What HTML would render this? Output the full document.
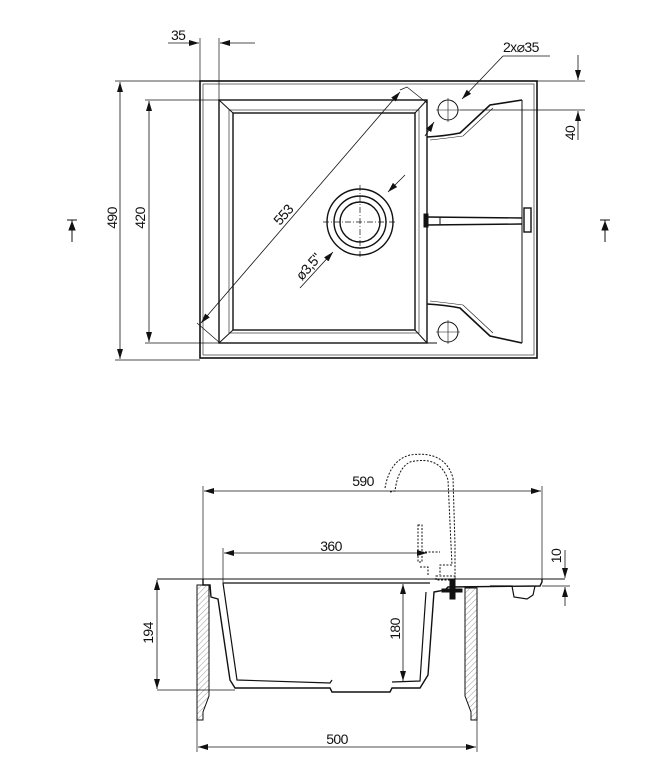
<!DOCTYPE html>
<html><head><meta charset="utf-8"><style>
html,body{margin:0;padding:0;background:#fff;}
svg{display:block;}
text{font-family:"Liberation Sans",sans-serif;font-size:14px;fill:#111;letter-spacing:-0.6px;}
</style></head><body>
<svg width="646" height="780" viewBox="0 0 646 780" xmlns="http://www.w3.org/2000/svg">
<defs>
<marker id="a" markerWidth="10" markerHeight="6" refX="10" refY="3" orient="auto" markerUnits="userSpaceOnUse"><path d="M0,0 L10,3 L0,6 z" fill="#111"/></marker>
<pattern id="h" width="4" height="4" patternUnits="userSpaceOnUse" patternTransform="rotate(45)"><line x1="0" y1="0" x2="0" y2="4" stroke="#999" stroke-width="1"/></pattern>
</defs>
<g stroke="#111" fill="none" stroke-width="1">
<rect x="200" y="81" width="337" height="277" stroke-width="1.6"/>
<rect x="203" y="84" width="331" height="271" stroke-width="0.6"/>
<rect x="219" y="100" width="208" height="243" stroke-width="1.4"/>
<rect x="233" y="113" width="182" height="217" stroke-width="1.4"/>
<rect x="229" y="110" width="190" height="223" stroke-width="0.6"/>
<line x1="219" y1="100" x2="233" y2="113"/><line x1="427" y1="100" x2="415" y2="113"/>
<line x1="219" y1="343" x2="233" y2="330"/><line x1="427" y1="343" x2="415" y2="330"/>
<line x1="427" y1="343" x2="437" y2="343"/>
<circle cx="360" cy="222" r="33" stroke-width="1.4"/>
<circle cx="360" cy="222" r="26" stroke-width="1.4"/>
<circle cx="360" cy="222" r="20" stroke-width="1.4"/>
<line x1="323" y1="222" x2="397" y2="222" stroke-dasharray="6,2,1,2" stroke-width="0.7"/>
<line x1="360" y1="185" x2="360" y2="259" stroke-dasharray="6,2,1,2" stroke-width="0.7"/>
<line x1="300" y1="288" x2="333" y2="252" stroke-width="0.8" marker-end="url(#a)"/>
<line x1="405" y1="175" x2="388" y2="192" stroke-width="0.8" marker-end="url(#a)"/>
<line x1="522" y1="100" x2="522" y2="343"/>
<path d="M427,137 Q445,136 460,133 L490,105 L522,100" stroke-width="1.6"/>
<path d="M430,140 Q448,138 463,136 L493,108" stroke-width="0.6"/>
<path d="M427,304 Q445,305 460,308 L490,336 L522,343" stroke-width="1.6"/>
<path d="M430,301 Q448,303 463,305 L493,333" stroke-width="0.6"/>
<line x1="427" y1="217" x2="522" y2="218" stroke-width="1.4"/>
<line x1="427" y1="225" x2="522" y2="224" stroke-width="1.4"/>
<line x1="440" y1="217" x2="440" y2="225"/>
<rect x="424" y="214" width="4" height="13" fill="#111"/>
<rect x="524" y="208" width="7" height="24" stroke-width="1.4"/>
<circle cx="448" cy="110" r="10"/><line x1="436" y1="110" x2="460" y2="110" stroke-width="0.6"/><line x1="448" y1="98" x2="448" y2="122" stroke-width="0.6"/>
<circle cx="448" cy="332" r="10"/><line x1="436" y1="332" x2="460" y2="332" stroke-width="0.6"/><line x1="448" y1="320" x2="448" y2="344" stroke-width="0.6"/>
<line x1="460" y1="110" x2="585" y2="110" stroke-width="0.7"/>
<path d="M503,56 L550,56" stroke-width="0.8"/>
<line x1="503" y1="56" x2="462" y2="99" stroke-width="0.8" marker-end="url(#a)"/>
<line x1="425" y1="136" x2="434" y2="122" stroke-width="0.8" marker-end="url(#a)"/>
<line x1="200" y1="81" x2="200" y2="38" stroke-width="0.7"/>
<line x1="219" y1="100" x2="219" y2="38" stroke-width="0.7"/>
<line x1="168" y1="43" x2="199" y2="43" stroke-width="0.8" marker-end="url(#a)"/>
<line x1="255" y1="43" x2="220" y2="43" stroke-width="0.8" marker-end="url(#a)"/>
<line x1="200" y1="81" x2="115" y2="81" stroke-width="0.7"/>
<line x1="200" y1="360" x2="115" y2="360" stroke-width="0.7"/>
<line x1="120" y1="220" x2="120" y2="82" stroke-width="0.8" marker-end="url(#a)"/>
<line x1="120" y1="220" x2="120" y2="359" stroke-width="0.8" marker-end="url(#a)"/>
<line x1="219" y1="100" x2="145" y2="100" stroke-width="0.7"/>
<line x1="219" y1="343" x2="145" y2="343" stroke-width="0.7"/>
<line x1="149" y1="220" x2="149" y2="101" stroke-width="0.8" marker-end="url(#a)"/>
<line x1="149" y1="220" x2="149" y2="342" stroke-width="0.8" marker-end="url(#a)"/>
<line x1="300" y1="208" x2="400" y2="92" stroke-width="0.8" marker-end="url(#a)"/>
<line x1="300" y1="208" x2="201" y2="323" stroke-width="0.8" marker-end="url(#a)"/>
<path d="M197,323 L220,343 M400,90 L407,87 L427,103" stroke-width="0.7"/>
<line x1="537" y1="81" x2="585" y2="81" stroke-width="0.7"/>
<line x1="578" y1="55" x2="578" y2="80" stroke-width="0.8" marker-end="url(#a)"/>
<line x1="578" y1="140" x2="578" y2="111" stroke-width="0.8" marker-end="url(#a)"/>
<path d="M67,220 L77,220 M72,220 L72,242" stroke-width="1"/><path d="M69,230 L72,222 L75,230z" fill="#111"/>
<path d="M600,220 L610,220 M605,220 L605,242" stroke-width="1"/><path d="M602,230 L605,222 L608,230z" fill="#111"/>

<line x1="157" y1="579" x2="565" y2="579" stroke-width="1"/>
<line x1="203" y1="579" x2="203" y2="486" stroke-width="0.7"/>
<line x1="542" y1="579" x2="542" y2="486" stroke-width="0.7"/>
<line x1="370" y1="491" x2="204" y2="491" stroke-width="0.8" marker-end="url(#a)"/>
<line x1="370" y1="491" x2="541" y2="491" stroke-width="0.8" marker-end="url(#a)"/>
<line x1="223" y1="583" x2="223" y2="548" stroke-width="0.7"/>
<line x1="330" y1="553" x2="224" y2="553" stroke-width="0.8" marker-end="url(#a)"/>
<line x1="330" y1="553" x2="427" y2="553" stroke-width="0.8" marker-end="url(#a)"/>
<path d="M203,579 L203,585 L210,585 L211,597 L218,599 L230,680 L235,688 L330,688 L332,692 L390,692 L392,688 L420,688 L428,675 L434,592 L445,590 L448,587 L540,586 L542,582 L542,579" stroke-width="1.4"/>
<path d="M223,583 L430,583 M223,583 L237,680 L330,683 L332,680 M392,682 L420,681 L426,592" stroke-width="1.2"/>
<path d="M490,586 L512,586 L514,597 L527,599 L533,595 L535,586" stroke-width="1.2"/>
<g stroke-dasharray="2,1.5" stroke-width="1">
<path d="M390,492 L395,491 Q398,468 410,462 Q440,455 448,480 L451,545 L452,565 L440,565 L440,575"/>
<path d="M385,488 Q390,460 410,455 Q445,450 453,478 L455,545 L455,578"/>
<path d="M418,525 L422,525 L422,562 L418,562 Z"/>
<path d="M418,552 L440,552 M420,567 L428,567 L428,575"/>
<path d="M436,576 L455,576 L455,580 L436,580 Z"/>
</g>
<rect x="450" y="580" width="5" height="19" fill="#111"/>
<rect x="442" y="589" width="20" height="3" fill="#111"/>
<path d="M197,585 L209,585 L209,696 L203,712 L203,720 L197,720 Z" fill="url(#h)" stroke-width="1"/>
<path d="M465,588 L477,588 L477,720 L471,720 L471,712 L465,696 Z" fill="url(#h)" stroke-width="1"/>
<line x1="197" y1="720" x2="197" y2="752" stroke-width="0.7"/>
<line x1="477" y1="720" x2="477" y2="752" stroke-width="0.7"/>
<line x1="337" y1="747" x2="198" y2="747" stroke-width="0.8" marker-end="url(#a)"/>
<line x1="337" y1="747" x2="476" y2="747" stroke-width="0.8" marker-end="url(#a)"/>
<line x1="157" y1="690" x2="235" y2="690" stroke-width="0.7"/>
<line x1="157" y1="633" x2="157" y2="580" stroke-width="0.8" marker-end="url(#a)"/>
<line x1="157" y1="633" x2="157" y2="689" stroke-width="0.8" marker-end="url(#a)"/>
<line x1="403" y1="633" x2="403" y2="584" stroke-width="0.8" marker-end="url(#a)"/>
<line x1="403" y1="633" x2="403" y2="681" stroke-width="0.8" marker-end="url(#a)"/>
<line x1="542" y1="586" x2="570" y2="586" stroke-width="0.7"/>
<line x1="565" y1="550" x2="565" y2="578" stroke-width="0.8" marker-end="url(#a)"/>
<line x1="565" y1="606" x2="565" y2="587" stroke-width="0.8" marker-end="url(#a)"/>
</g>
<text x="171" y="40">35</text>
<text x="503" y="52">2x⌀35</text>
<text transform="translate(117,218) rotate(-90)" text-anchor="middle">490</text>
<text transform="translate(145,218) rotate(-90)" text-anchor="middle">420</text>
<text transform="translate(287,218) rotate(-49)" text-anchor="middle">553</text>
<text transform="translate(312,270) rotate(-49)" text-anchor="middle">ø3,5"</text>
<text transform="translate(575,133) rotate(-90)" text-anchor="middle">40</text>
<text x="363" y="486" text-anchor="middle">590</text>
<text x="331" y="551" text-anchor="middle">360</text>
<text x="337" y="744" text-anchor="middle">500</text>
<text transform="translate(153,633) rotate(-90)" text-anchor="middle">194</text>
<text transform="translate(400,629) rotate(-90)" text-anchor="middle">180</text>
<text transform="translate(561,556) rotate(-90)" text-anchor="middle">10</text>
</svg>
</body></html>
